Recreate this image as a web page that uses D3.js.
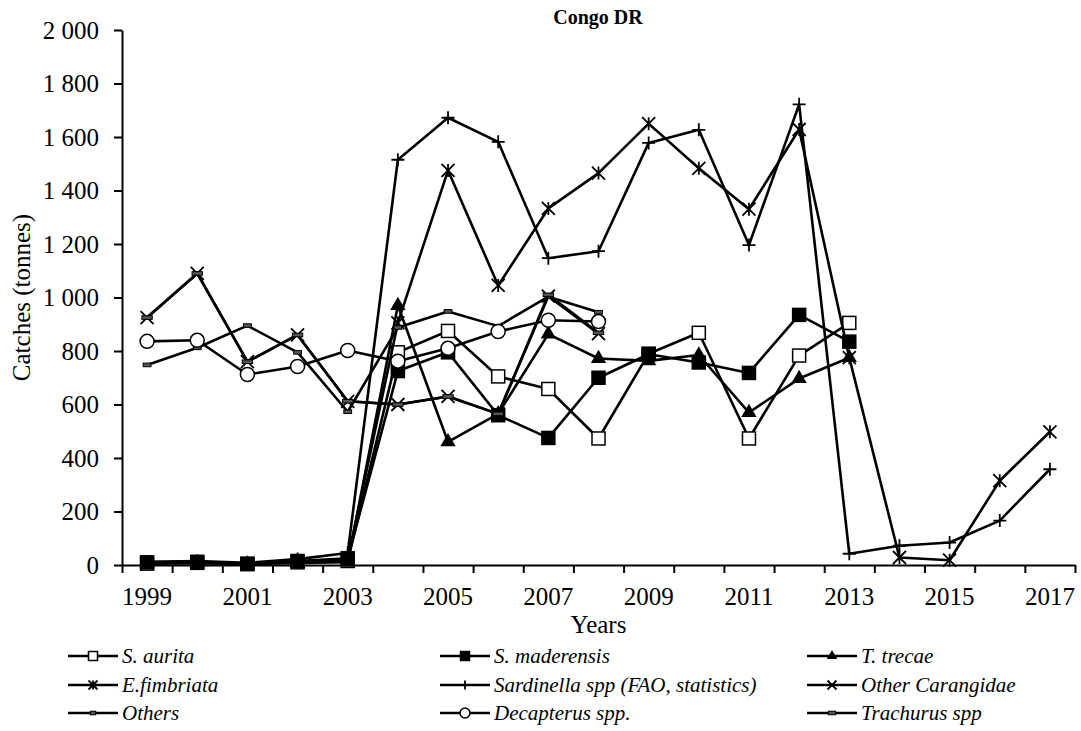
<!DOCTYPE html>
<html>
<head>
<meta charset="utf-8">
<script src="https://cdn.jsdelivr.net/npm/d3@7"></script>
<style>
  body { margin: 0; background: #fff; }
  svg text { font-family: "Liberation Serif", "Times New Roman", serif; }
</style>
</head>
<body>
<div id="chart"></div>
<script>
// years on the category axis
const years = d3.range(1999, 2018);
const yTicks = d3.range(0, 2001, 200);

// catches in tonnes, null = no data
const sAurita = [5, 8, 3, 10, 15, 795, 875, 705, 658, 473, 790, 868, 473, 783, 905, null, null, null, null];
const sMaderensis = [10, 12, 5, 15, 25, 725, 795, 560, 475, 700, 788, 757, 718, 935, 835, null, null, null, null];
const tTrecae = [5, 8, 3, 8, 10, 970, 460, 565, 863, 772, 763, 785, 570, 697, 775, null, null, null, null];
const eFimbriata = [8, 10, 5, 12, 20, 905, 1475, 1045, 1333, 1465, 1650, 1483, 1330, 1628, 775, 28, 18, 315, 498];
const sardinella = [12, 15, 8, 22, 45, 1515, 1672, 1582, 1147, 1173, 1578, 1627, 1196, 1722, 42, 72, 84, 166, 358];
const otherCarangidae = [925, 1090, 760, 860, 612, 600, 630, 565, 1005, 865, null, null, null, null, null, null, null, null, null];
const others = [748, 812, 895, 795, 573, 888, 948, 893, 1003, 945, null, null, null, null, null, null, null, null, null];
const decapterus = [836, 840, 712, 742, 802, 762, 810, 873, 915, 910, null, null, null, null, null, null, null, null, null];
const trachurus = [925, 1090, 760, 860, 612, 600, 630, 565, 1010, 868, null, null, null, null, null, null, null, null, null];

const seriesNames = ["S. aurita", "S. maderensis", "T. trecae", "E.fimbriata",
  "Sardinella spp (FAO, statistics)", "Other Carangidae", "Others", "Decapterus spp.", "Trachurus spp"];
const seriesValues = [sAurita, sMaderensis, tTrecae, eFimbriata, sardinella, otherCarangidae, others, decapterus, trachurus];
const seriesMarkers = ["squareOpen", "squareFilled", "triangle", "asterisk", "plus", "cross", "dashSmall", "circle", "dash"];

const W = 1081, H = 731;
const plotLeft = 122, plotRight = 1075, plotTop = 30, plotBottom = 565;
const FONT = "Liberation Serif";

const svg = d3.select("#chart").append("svg")
  .attr("width", W).attr("height", H);

const x = d3.scaleBand().domain(years).range([plotLeft, plotRight]).padding(0);
const xEdge = d3.scaleLinear().domain([0, years.length]).range([plotLeft, plotRight]);
const y = d3.scaleLinear().domain([0, 2000]).range([plotBottom, plotTop]);
const cx = d => x(d) + x.bandwidth() / 2;

const fmt = d3.formatLocale({ decimal: ".", thousands: " ", grouping: [3], currency: ["", ""] }).format(",");

// y axis
const yAxis = svg.append("g").attr("transform", `translate(${plotLeft},0)`)
  .call(d3.axisLeft(y).tickValues(yTicks).tickFormat(fmt).tickSize(8).tickSizeOuter(0));
yAxis.select(".domain").attr("stroke-width", 2);
yAxis.selectAll(".tick line").attr("stroke-width", 2);
yAxis.selectAll("text").attr("font-size", 25).attr("font-family", FONT).attr("x", -23);

// x axis: ticks between categories, labels every two years
const xTickG = svg.append("g").attr("transform", `translate(0,${y(0)})`)
  .call(d3.axisBottom(xEdge).ticks(years.length).tickFormat("").tickSize(8).tickSizeOuter(0));
xTickG.select(".domain").attr("stroke-width", 2);
xTickG.selectAll(".tick line").attr("stroke-width", 2);

const xLab = svg.append("g").attr("transform", `translate(0,${y(0)})`)
  .call(d3.axisBottom(x).tickValues(years.filter(d => (d - 1999) % 2 === 0)).tickSize(0).tickPadding(22));
xLab.select(".domain").remove();
xLab.selectAll("text").attr("font-size", 25).attr("font-family", FONT);

// titles
svg.append("text").attr("x", 598).attr("y", 24).attr("text-anchor", "middle")
  .attr("font-size", 20).attr("font-weight", "bold").text("Congo DR");
svg.append("text").attr("x", (plotLeft + plotRight) / 2).attr("y", 633).attr("text-anchor", "middle")
  .attr("font-size", 25).text("Years");
svg.append("text").attr("transform", `translate(30,${(plotTop + plotBottom) / 2}) rotate(-90)`)
  .attr("text-anchor", "middle").attr("font-size", 25).text("Catches (tonnes)");

function drawMarker(g, type, s) {
  const h = s / 2;
  if (type === "squareOpen" || type === "squareFilled") {
    g.append("rect").attr("x", -h).attr("y", -h).attr("width", s).attr("height", s)
      .attr("fill", type === "squareOpen" ? "#fff" : "#000").attr("stroke", "#000").attr("stroke-width", 1.5);
  } else if (type === "triangle") {
    g.append("path").attr("d", d3.symbol(d3.symbolTriangle, s * s * 0.6)()).attr("fill", "#000");
  } else if (type === "circle") {
    g.append("circle").attr("r", h + 0.5).attr("fill", "#fff").attr("stroke", "#000").attr("stroke-width", 1.5);
  } else if (type === "cross" || type === "asterisk") {
    g.append("path").attr("d", `M${-h},${-h}L${h},${h}M${-h},${h}L${h},${-h}` + (type === "asterisk" ? `M0,${-h}L0,${h}` : ""))
      .attr("stroke", "#000").attr("stroke-width", 1.8).attr("fill", "none");
  } else if (type === "plus") {
    g.append("path").attr("d", `M${-h},0L${h},0M0,${-h}L0,${h}`)
      .attr("stroke", "#000").attr("stroke-width", 1.8).attr("fill", "none");
  } else if (type === "dash" || type === "dashSmall") {
    const w = type === "dash" ? s * 0.8 : s * 0.6;
    g.append("rect").attr("x", -w / 2).attr("y", -1.8).attr("width", w).attr("height", 3.6)
      .attr("fill", "#555").attr("stroke", "#000").attr("stroke-width", 1);
  }
}

const line = d3.line()
  .defined(d => d.v !== null)
  .x(d => cx(d.year))
  .y(d => y(d.v));

seriesValues.forEach((vals, i) => {
  const pts = vals.map((v, k) => ({ year: years[k], v: v }));
  const g = svg.append("g");
  g.append("path").datum(pts).attr("d", line)
    .attr("fill", "none").attr("stroke", "#000").attr("stroke-width", 2.6).attr("stroke-linejoin", "round");
  pts.filter(d => d.v !== null).forEach(d => {
    const m = g.append("g").attr("transform", `translate(${cx(d.year)},${y(d.v)})`);
    drawMarker(m, seriesMarkers[i], 13);
  });
});

// legend, three columns
const legX = [68, 440, 807];
const legY = [656, 685, 713];
seriesNames.forEach((name, i) => {
  const gx = legX[i % 3], gy = legY[Math.floor(i / 3)];
  const g = svg.append("g").attr("transform", `translate(${gx},${gy})`);
  g.append("line").attr("x1", 0).attr("x2", 50).attr("stroke", "#000").attr("stroke-width", 2.6);
  drawMarker(g.append("g").attr("transform", "translate(25,0)"), seriesMarkers[i], 9);
  g.append("text").attr("x", 54).attr("y", 7).attr("font-size", 21).attr("font-style", "italic").text(name);
});
</script>
</body>
</html>
